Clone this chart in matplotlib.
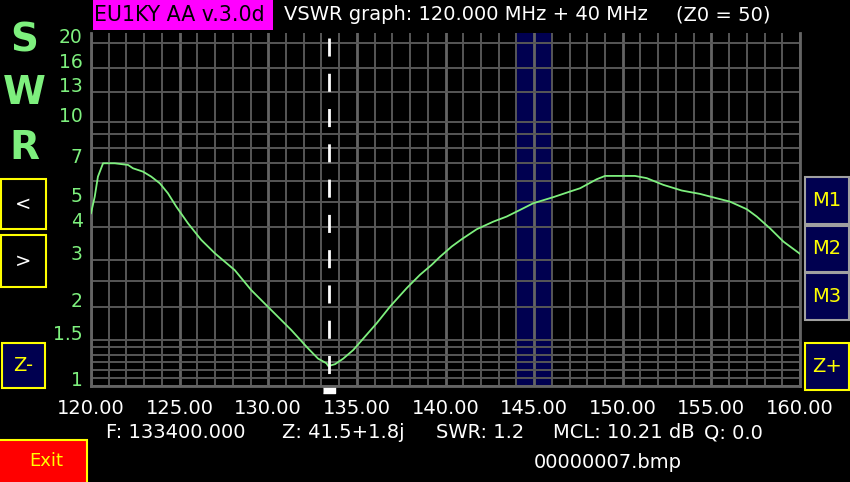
import matplotlib.pyplot as plt
from matplotlib.patches import Rectangle
from matplotlib.ticker import FixedLocator, NullFormatter
import matplotlib.transforms as mtransforms

# sweep (MHz, VSWR)
freq = [120.0, 120.21, 120.39, 120.68, 121.34, 122.09, 122.37, 122.93, 123.40,
        123.88, 124.34, 124.81, 125.47, 126.22, 126.98, 128.11, 129.04, 130.17,
        131.30, 132.24, 132.81, 133.28, 133.39, 133.77, 134.23, 134.80, 135.46,
        136.12, 136.87, 137.81, 138.56, 139.22, 139.69, 140.35, 140.91, 141.76,
        142.70, 143.45, 144.20, 144.95, 146.08, 147.02, 147.59, 148.53, 149.00,
        150.69, 151.35, 152.29, 153.33, 154.36, 155.30, 156.05, 157.00, 157.56,
        158.31, 159.06, 160.0]
swr = [4.52, 5.22, 6.22, 6.99, 6.99, 6.89, 6.69, 6.50, 6.22, 5.87, 5.38, 4.79,
       4.14, 3.58, 3.19, 2.75, 2.31, 1.94, 1.63, 1.39, 1.27, 1.22, 1.19, 1.21,
       1.27, 1.37, 1.54, 1.73, 2.00, 2.35, 2.64, 2.88, 3.09, 3.38, 3.60, 3.93,
       4.20, 4.39, 4.65, 4.93, 5.20, 5.46, 5.62, 6.08, 6.26, 6.26, 6.14, 5.79,
       5.51, 5.35, 5.15, 5.00, 4.68, 4.39, 3.96, 3.53, 3.17]

x_major = [120, 125, 130, 135, 140, 145, 150, 155, 160]
x_labels = ["120.00", "125.00", "130.00", "135.00", "140.00", "145.00",
            "150.00", "155.00", "160.00"]
y_labeled = [1, 1.5, 2, 3, 4, 5, 7, 10, 13, 16, 20]
y_extra = [1.075, 1.15, 1.23, 1.31, 1.4, 2.5, 6, 8, 9]
band = (144, 146)
marker_f = 133.4

GREEN = "#7ef07e"
GRID = "#575757"
NAVY = "#000050"
YELLOW = "#ffff00"

fig = plt.figure(figsize=(8.5, 4.82), dpi=100, facecolor="black")

# screen overlay in pixel coordinates
bg = fig.add_axes([0, 0, 1, 1])
bg.set_xlim(0, 850)
bg.set_ylim(482, 0)
bg.axis("off")

bg.add_patch(Rectangle((92.7, 0), 180, 30, facecolor="#ff00ff", edgecolor="none"))
bg.text(94, 15, "EU1KY AA v.3.0d", color="black", fontsize=14.8, va="center")
bg.text(284, 15, "VSWR graph: 120.000 MHz + 40 MHz", color="white", fontsize=14, va="center")
bg.text(676, 15, "(Z0 = 50)", color="white", fontsize=14, va="center")

for letter, yy in zip("SWR", [41, 93, 148]):
    bg.text(24, yy, letter, color=GREEN, fontsize=28, fontweight="bold",
            ha="center", va="center")

# left / right buttons: (x, y, w, h, face, edge, label, text colour)
buttons = [
    (1, 179, 45, 50, "black", YELLOW, "<", "white"),
    (1, 235, 45, 52, "black", YELLOW, ">", "white"),
    (2, 343, 43, 45, NAVY, YELLOW, "Z-", YELLOW),
    (805, 177, 44, 47, NAVY, "#a0a0a0", "M1", YELLOW),
    (805, 226, 44, 46, NAVY, "#a0a0a0", "M2", YELLOW),
    (805, 273, 44, 47, NAVY, "#a0a0a0", "M3", YELLOW),
    (805, 343, 44, 47, NAVY, YELLOW, "Z+", YELLOW),
]
for bx, by, bw, bh, face, edge, lab, tc in buttons:
    bg.add_patch(Rectangle((bx, by), bw, bh, facecolor=face, edgecolor=edge, lw=1.5))
    bg.text(bx + bw / 2, by + bh / 2, lab, color=tc, fontsize=14,
            ha="center", va="center")

bg.add_patch(Rectangle((-2, 440), 89, 45, facecolor="#ff0000", edgecolor=YELLOW, lw=1.5))
bg.text(46, 461, "Exit", color=YELLOW, fontsize=13, ha="center", va="center")

info = [(106, "F: 133400.000"), (282, "Z: 41.5+1.8j"), (436, "SWR: 1.2"),
        (553, "MCL: 10.21 dB"), (704, "Q: 0.0")]
for xx, s in info:
    bg.text(xx, 433, s, color="white", fontsize=14, va="center")
bg.text(534, 463, "00000007.bmp", color="white", fontsize=14, va="center")

# the graph itself
ax = fig.add_axes([91 / 850, 96 / 482, 709 / 850, 353 / 482], facecolor="black")
ax.set_xlim(120, 160)
ax.set_yscale("log")
ax.set_ylim(1, 21.8)

ax.xaxis.set_major_locator(FixedLocator(x_major))
ax.xaxis.set_minor_locator(FixedLocator(range(120, 161)))
ax.set_xticklabels(x_labels)
ax.yaxis.set_major_locator(FixedLocator(y_labeled))
ax.yaxis.set_minor_locator(FixedLocator(y_extra))
ax.set_yticklabels([f"{v:g}" for v in y_labeled])
ax.yaxis.set_minor_formatter(NullFormatter())
for lab in ax.get_yticklabels():
    lab.set_verticalalignment("baseline")

ax.tick_params(axis="x", which="both", length=0, pad=9, colors="white", labelsize=14)
ax.tick_params(axis="y", which="both", length=0, pad=6, colors=GREEN, labelsize=13.5)
ax.grid(axis="x", which="minor", color=GRID, lw=1.4)
ax.grid(axis="x", which="major", color="#646464", lw=2.0)
ax.grid(axis="y", which="both", color=GRID, lw=1.4)
ax.set_axisbelow(True)

for side in ["left", "right", "bottom"]:
    ax.spines[side].set_color("#646464")
    ax.spines[side].set_linewidth(2)
ax.spines["top"].set_visible(False)

ax.axvspan(band[0], band[1], color=NAVY, zorder=0.2, lw=0)
ax.plot(freq, swr, color=GREEN, lw=1.3, zorder=3)
ax.plot([marker_f, marker_f], [20.9, 1.0], color="white", lw=2,
        dashes=(6.5, 6.2), zorder=4)
trans = mtransforms.blended_transform_factory(ax.transData, ax.transAxes)
ax.plot([marker_f], [-0.011], transform=trans, marker=[(-1, -0.6), (1, -0.6), (1, 0.6), (-1, 0.6)],
        ms=8, color="white", clip_on=False)

fig.savefig("out.png", dpi=100, facecolor="black")
